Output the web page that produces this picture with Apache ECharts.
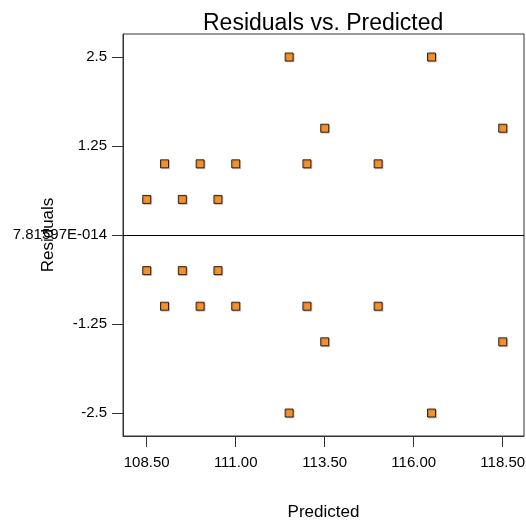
<!DOCTYPE html>
<html>
<head>
<meta charset="utf-8">
<script src="https://cdn.jsdelivr.net/npm/echarts@6/dist/echarts.min.js"></script>
<style>html,body{margin:0;padding:0;background:#fff}#c{width:526px;height:526px}</style>
</head>
<body>
<div id="c"></div>
<script>
var predicted = [108.5, 109.0, 109.5, 110.0, 110.5, 111.0, 112.5, 113.0, 113.5, 115.0, 116.5, 118.5,
                 108.5, 109.0, 109.5, 110.0, 110.5, 111.0, 112.5, 113.0, 113.5, 115.0, 116.5, 118.5];
var residuals = [0.5, 1.0, 0.5, 1.0, 0.5, 1.0, 2.5, 1.0, 1.5, 1.0, 2.5, 1.5,
                 -0.5, -1.0, -0.5, -1.0, -0.5, -1.0, -2.5, -1.0, -1.5, -1.0, -2.5, -1.5];
var xTicks = [108.5, 111.0, 113.5, 116.0, 118.5];
var xTickLabels = ['108.50', '111.00', '113.50', '116.00', '118.50'];
var yTicks = [-2.5, -1.25, 0, 1.25, 2.5];
var yTickLabels = ['-2.5', '-1.25', '7.81597E-014', '1.25', '2.5'];
var titleText = 'Residuals vs. Predicted';
var xName = 'Predicted';
var yName = 'Residuals';

var points = predicted.map(function (p, i) { return [p, residuals[i]]; });
var font = 'Liberation Sans, Arial, sans-serif';

var chart = echarts.init(document.getElementById('c'), null, {renderer: 'canvas'});
chart.setOption({
  animation: false,
  backgroundColor: '#fff',
  title: {
    text: titleText, left: 198, top: 7,
    textStyle: {fontFamily: font, fontSize: 23, fontWeight: 'normal', color: '#000'}
  },
  grid: {left: 123, right: 2, top: 34, bottom: 90, show: true, borderColor: '#333', borderWidth: 1,
    backgroundColor: '#fff', containLabel: false, outerBoundsMode: 'none'},
  xAxis: {
    type: 'value', min: 107.834, max: 119.098,
    name: xName, nameLocation: 'middle', nameGap: 68, nameMoveOverlap: false,
    nameTextStyle: {fontFamily: font, fontSize: 17, color: '#000'},
    axisLine: {show: true, onZero: false, lineStyle: {color: '#333'}},
    axisTick: {show: true, length: 11, inside: false, customValues: xTicks, lineStyle: {color: '#333'}},
    axisLabel: {margin: 19, customValues: xTicks, fontFamily: font, fontSize: 15, color: '#000',
      formatter: function (v) { var i = xTicks.indexOf(v); return i >= 0 ? xTickLabels[i] : ''; }},
    splitLine: {show: false}
  },
  yAxis: {
    type: 'value', min: -2.823, max: 2.823,
    name: yName, nameLocation: 'middle', nameGap: 66, nameMoveOverlap: false,
    nameTextStyle: {fontFamily: font, fontSize: 17, color: '#000'},
    axisLine: {show: true, onZero: false, lineStyle: {color: '#333'}},
    axisTick: {show: true, length: 11, inside: false, customValues: yTicks, lineStyle: {color: '#333'}},
    axisLabel: {margin: 16, customValues: yTicks, fontFamily: font, fontSize: 15, color: '#000',
      formatter: function (v) { var i = yTicks.indexOf(v); return i >= 0 ? yTickLabels[i] : ''; }},
    splitLine: {show: false}
  },
  series: [{
    type: 'scatter',
    data: points,
    symbol: 'rect',
    symbolSize: 8,
    itemStyle: {
      color: '#FF8000', borderColor: '#000', borderWidth: 1,
      shadowColor: 'rgba(0,0,0,0.22)', shadowBlur: 0, shadowOffsetX: 1, shadowOffsetY: 1
    },
    markLine: {
      silent: true, symbol: 'none', label: {show: false},
      lineStyle: {color: '#000', width: 1, type: 'solid'},
      data: [{yAxis: 0}]
    },
    z: 3
  }]
});
</script>
</body>
</html>
